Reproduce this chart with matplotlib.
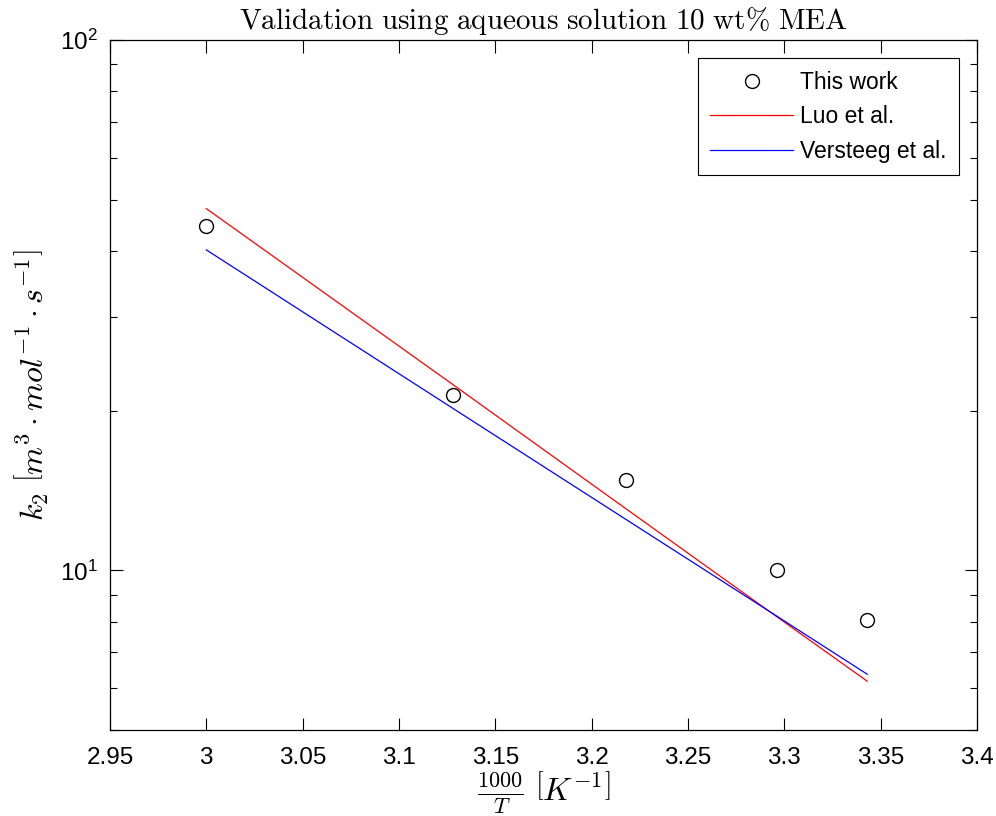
import numpy as np
import matplotlib
matplotlib.use("Agg")
import matplotlib.pyplot as plt
from matplotlib.ticker import LogLocator, NullFormatter, FixedLocator

plt.rcParams['font.family'] = ['Liberation Sans', 'DejaVu Sans']
plt.rcParams['mathtext.fontset'] = 'cm'

# data
inv_T = [3.000, 3.128, 3.218, 3.296, 3.343]
k2_this_work = [44.6, 21.4, 14.8, 10.0, 8.05]
k2_luo = [48.1, 22.4, 13.05, 8.18, 6.18]
k2_versteeg = [40.2, 20.2, 12.46, 8.20, 6.37]

x_ticks = [2.95, 3.0, 3.05, 3.1, 3.15, 3.2, 3.25, 3.3, 3.35, 3.4]
x_ticklabels = ['2.95', '3', '3.05', '3.1', '3.15', '3.2', '3.25', '3.3', '3.35', '3.4']

fig = plt.figure(figsize=(9.96, 8.16), dpi=100)
ax = fig.add_axes([0.1104, 0.1054, 0.8706, 0.8456])

ax.semilogy(inv_T, k2_this_work, 'o', mfc='none', mec='k', ms=10, mew=1.0,
            label='This work')
ax.semilogy(inv_T, k2_luo, '-', color='#ff0000', lw=0.9, label='Luo et al.')
ax.semilogy(inv_T, k2_versteeg, '-', color='#0000ff', lw=0.9,
            label='Versteeg et al.')

ax.set_xlim(2.95, 3.4)
ax.set_ylim(5, 100)
ax.xaxis.set_major_locator(FixedLocator(x_ticks))
ax.set_xticklabels(x_ticklabels)
ax.yaxis.set_major_locator(LogLocator(base=10, numticks=10))
ax.yaxis.set_minor_locator(LogLocator(base=10, subs=np.arange(2, 10), numticks=10))
ax.yaxis.set_minor_formatter(NullFormatter())

ax.tick_params(which='both', direction='in', top=True, right=True,
               labelsize=17.5, width=0.8, colors='k')
ax.tick_params(which='major', length=9)
ax.tick_params(which='minor', length=5)
ax.tick_params(axis='x', pad=12)
ax.tick_params(axis='y', pad=9)
for s in ax.spines.values():
    s.set_linewidth(0.9)

ax.set_title('$\\mathrm{Validation\\ using\\ aqueous\\ solution\\ 10\\ wt\\%\\ MEA}$',
             fontsize=21, pad=8)
ax.set_xlabel(r'$\frac{1000}{T}\ \left[K^{-1}\right]$', fontsize=23, labelpad=0)
ax.set_ylabel(r'$k_2\ \left[m^3 \cdot mol^{-1} \cdot s^{-1}\right]$', fontsize=23,
              labelpad=6)

leg = ax.legend(loc='upper right', fontsize=16.5, fancybox=False, framealpha=1,
                edgecolor='k', borderaxespad=0.8, handlelength=3.6,
                labelspacing=0.5, handletextpad=0.3, borderpad=0.55)
leg.get_frame().set_linewidth(0.8)

fig.savefig('out.png', dpi=100)
